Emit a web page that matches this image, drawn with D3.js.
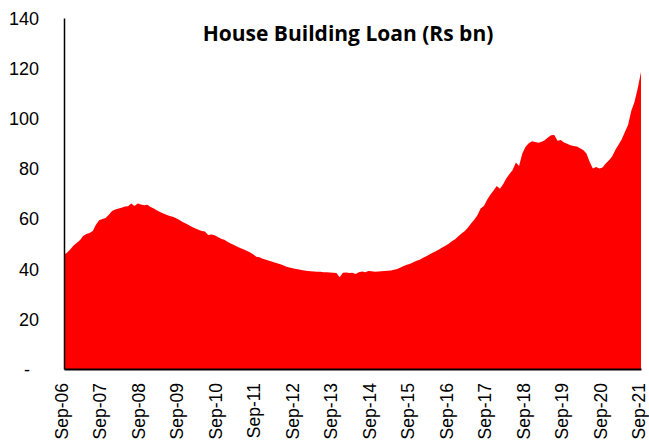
<!DOCTYPE html>
<html>
<head>
<meta charset="utf-8">
<script src="https://cdn.jsdelivr.net/npm/d3@7"></script>
<style>
  body { margin: 0; background: #fff; }
  svg { display: block; font-family: Lato, "Open Sans", sans-serif; }
</style>
</head>
<body>
<div id="chart"></div>
<script>
// House Building Loan (Rs bn), monthly, Sep-06 .. Sep-21
const startMonth = new Date(2006, 8, 1);

const loans2006_08 = [45.5, 46.5, 47.8, 49.3, 50.4, 51.5, 53.0, 53.8, 54.2, 55.0, 57.5, 59.3,
                      59.8, 60.2, 61.5, 63.0, 63.6, 64.0, 64.3, 64.8, 64.9, 66.0, 65.0, 66.0];
const loans2008_10 = [65.6, 65.3, 65.5, 64.6, 64.0, 63.2, 62.6, 62.0, 61.5, 61.0, 60.7, 60.1,
                      59.4, 58.6, 58.0, 57.3, 56.6, 56.0, 55.5, 55.0, 54.8, 53.4, 53.6, 53.3];
const loans2010_12 = [52.6, 52.0, 51.6, 50.8, 50.1, 49.5, 48.9, 48.3, 47.8, 47.2, 46.6, 45.8,
                      44.8, 44.6, 44.0, 43.6, 43.2, 42.8, 42.4, 42.0, 41.6, 41.0, 40.6, 40.3];
const loans2012_14 = [40.0, 39.8, 39.5, 39.3, 39.1, 39.0, 38.9, 38.8, 38.8, 38.6, 38.6, 38.5,
                      38.4, 38.3, 36.6, 38.4, 38.5, 38.3, 38.4, 37.9, 38.6, 38.9, 38.6, 39.1];
const loans2014_16 = [39.0, 38.8, 38.9, 39.0, 39.1, 39.2, 39.3, 39.6, 39.9, 40.5, 41.1, 41.6,
                      42.0, 42.6, 43.2, 43.6, 44.4, 45.0, 45.7, 46.4, 47.0, 47.7, 48.5, 49.2];
const loans2016_18 = [50.0, 51.0, 51.8, 52.9, 54.0, 55.0, 56.3, 58.0, 59.5, 61.3, 64.0, 65.0,
                      67.5, 69.5, 71.2, 73.0, 71.9, 73.8, 76.0, 77.8, 79.4, 82.4, 81.0, 86.0];
const loans2018_20 = [88.6, 90.0, 90.8, 90.5, 90.2, 90.6, 91.2, 92.3, 93.2, 93.3, 91.0, 91.3,
                      90.3, 89.8, 89.2, 88.9, 88.7, 88.0, 87.4, 86.0, 82.7, 80.0, 80.6, 80.0];
const loans2020_21 = [80.4, 82.0, 83.3, 84.8, 87.5, 89.5, 91.5, 94.5, 97.3, 103.0, 106.5, 112.0,
                      118.5];

const loans = [].concat(loans2006_08, loans2008_10, loans2010_12, loans2012_14,
                        loans2014_16, loans2016_18, loans2018_20, loans2020_21);

const yTicks = [0, 20, 40, 60, 80, 100, 120, 140];
const xTickYears = d3.range(2006, 2022);

const data = loans.map((v, i) => ({
    date: new Date(startMonth.getFullYear(), startMonth.getMonth() + i, 1),
    value: v
}));

const width = 649, height = 444;
const plotLeft = 64, plotRight = 641, plotTop = 18, plotBottom = 369;

const svg = d3.select('#chart')
    .append('svg')
    .attr('width', width)
    .attr('height', height);

const x = d3.scaleTime()
    .domain([data[0].date, data[data.length - 1].date])
    .range([plotLeft, plotRight]);

const y = d3.scaleLinear()
    .domain([0, 140])
    .range([plotBottom, plotTop]);

const area = d3.area()
    .x(d => x(d.date))
    .y0(y(0))
    .y1(d => y(d.value));

svg.append('path')
    .datum(data)
    .attr('d', area)
    .attr('fill', '#ff0000');

// y axis
const yAxis = svg.append('g')
    .attr('transform', `translate(${plotLeft},0)`)
    .call(d3.axisLeft(y).tickValues(yTicks).tickSize(0).tickPadding(25)
        .tickFormat(d => d === 0 ? '-' : d));
yAxis.select('.domain').attr('stroke', '#000').attr('stroke-width', 1.5);
yAxis.selectAll('text')
    .style('font-size', '18px')
    .attr('fill', '#000')
    .attr('dy', '0.35em')
    .filter(d => d === 0)
    .attr('dx', '-9px');

// x axis
const xAxis = svg.append('g')
    .attr('transform', `translate(0,${plotBottom})`)
    .call(d3.axisBottom(x)
        .tickValues(xTickYears.map(yr => new Date(yr, 8, 1)))
        .tickSize(0)
        .tickFormat(d3.timeFormat('Sep-%y')));
xAxis.select('.domain').attr('stroke', '#000').attr('stroke-width', 2);
xAxis.selectAll('text')
    .style('font-size', '17.5px')
    .attr('fill', '#000')
    .attr('text-anchor', 'end')
    .attr('transform', 'rotate(-90)')
    .attr('x', -14)
    .attr('y', 0)
    .attr('dy', '0.2em');

svg.append('text')
    .attr('x', 348)
    .attr('y', 41)
    .attr('text-anchor', 'middle')
    .style('font-family', '"Open Sans", sans-serif')
    .style('font-size', '21px')
    .style('font-weight', 'bold')
    .text('House Building Loan (Rs bn)');
</script>
</body>
</html>
